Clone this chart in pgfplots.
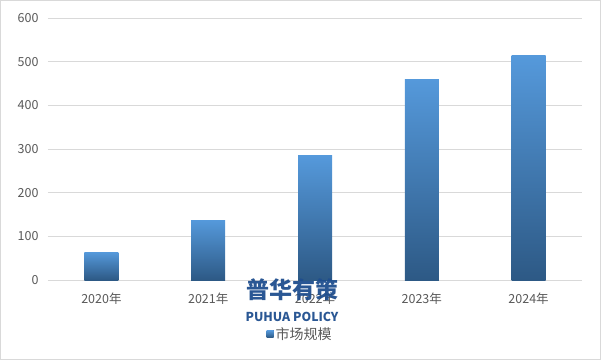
\documentclass[border=0pt]{standalone}
\usepackage{fontspec}
\setmainfont{Noto Sans CJK SC}
\usepackage{pgfplots}
\pgfplotsset{compat=1.18}
\definecolor{tickgray}{HTML}{595959}
\definecolor{gridgray}{HTML}{D9D9D9}
\definecolor{bartop}{HTML}{5599DB}
\definecolor{barbot}{HTML}{2D5985}
\definecolor{legblue}{HTML}{3F75AE}
\definecolor{wmblue}{HTML}{1F4E8E}
\begin{document}
\begin{tikzpicture}
\begin{axis}[
  scale only axis, width=534pt, height=262pt,
  xmin=-0.5, xmax=4.5, ymin=0, ymax=600,
  xtick={0,1,2,3,4}, xticklabels={2020年,2021年,2022年,2023年,2024年},
  ytick={0,100,...,600},
  ymajorgrids, grid style={gridgray, line width=0.8pt},
  axis x line*=bottom, axis y line*=left,
  y axis line style={draw=none},
  x axis line style={gridgray, line width=0.8pt, -},
  tick style={draw=none},
  major tick length=0pt,
  no markers,
  /pgf/number format/assume math mode=true,
  ticklabel style={font=\fontsize{12.5}{14}\selectfont, text=tickgray},
  yticklabel style={xshift=-6pt},
  xticklabel style={yshift=-9pt},
  bar width=34pt,
  every axis plot/.append style={ybar, bar shift=0pt, draw=none, top color=bartop, bottom color=barbot},
  legend style={at={(0.472,-0.206)}, anchor=center, draw=none, fill=none,
    font=\fontsize{14}{16}\selectfont, text=tickgray},
  legend image code/.code={\fill[legblue] (0pt,-3.5pt) rectangle (7pt,3.5pt);},
]
\addplot coordinates {(0,64)};
\addlegendentry{市场规模}
\addplot coordinates {(1,137)};
\addplot coordinates {(2,284)};
\addplot coordinates {(3,460)};
\addplot coordinates {(4,513)};
\end{axis}
\begin{scope}[shift={(current axis.south west)}, x=1pt, y=1pt]
\draw[gridgray,line width=1pt] (-47.5,-79.5) rectangle (552.5,279.5);
\node[text=wmblue, opacity=0.95, font=\fontsize{23}{25}\selectfont\bfseries] at (244,-10) {普华有策};
\node[text=wmblue, opacity=0.95, font=\fontsize{12.3}{14}\selectfont\bfseries] at (244,-37) {PUHUA POLICY};
\end{scope}
\end{tikzpicture}
\end{document}
